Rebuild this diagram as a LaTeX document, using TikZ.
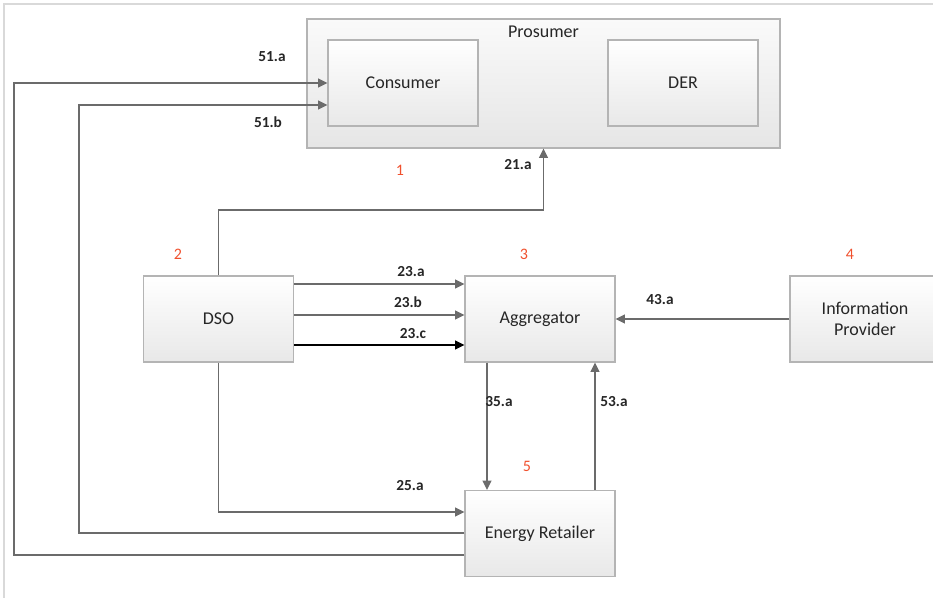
\documentclass[tikz,border=0pt]{standalone}
\usepackage{fontspec}
\setmainfont{Carlito}
\usepackage{tikz}
\usetikzlibrary{positioning, arrows.meta}

\definecolor{linegray}{HTML}{6B6B6B}
\definecolor{boxline}{HTML}{B4B4B4}
\definecolor{numred}{HTML}{F0502D}

\begin{document}
\begin{tikzpicture}[x=0.75pt, y=-0.75pt,
    block/.style={rectangle, draw=boxline, line width=0.8pt, top color=white, bottom color=black!9,
        minimum width=112.5pt, minimum height=64.5pt, align=center, font=\fontsize{13.5}{16}\selectfont, text=black!85},
    flow/.style={draw=linegray, line width=1.4pt, -{Triangle[length=7pt, width=6.5pt]}},
    wire/.style={draw=linegray, line width=1.4pt},
    tag/.style={font=\bfseries\fontsize{11.5}{13}\selectfont, text=black!85},
    num/.style={font=\fontsize{12}{14}\selectfont, text=numred}]
    \useasboundingbox (0,0) rectangle (933,598);
    \draw[black!15, line width=0.8pt] (4,598) -- (4,4) -- (933,4);

    % prosumer group
    \node[block, minimum width=354.75pt, minimum height=96.75pt, top color=black!2, bottom color=black!10] (prosumer) at (543.5,83.5) {};
    \node[font=\fontsize{13.5}{16}\selectfont, text=black!85] (prosumertxt) at (543.5,32) {Prosumer};
    \node[block] (consumer) at (403,83) {Consumer};
    \node[block] (der) at (683,83) {DER};

    % actors
    \node[block] (dso) at (218.5,319) {DSO};
    \node[block] (agg) at (540,319) {Aggregator};
    \node[block] (ip) at (865,319) {Information\\Provider};
    \node[block] (er) at (540,533.5) {Energy Retailer};

    % numbers
    \node[num] (n1) at (400,170) {1};
    \node[num] (n2) at (178,254) {2};
    \node[num] (n3) at (524,254) {3};
    \node[num] (n4) at (850,254) {4};
    \node[num] (n5) at (527,466) {5};

    % flows
    \draw[wire, -{Triangle[length=7pt, width=6.5pt]}] (dso.north) -- (dso.north |- 0,210) -| (prosumer.south);
    \draw[flow] (dso.east |- 0,284) -- (agg.west |- 0,284);
    \draw[flow] (dso.east |- 0,315) -- (agg.west |- 0,315);
    \draw[flow, draw=black] (dso.east |- 0,345) -- (agg.west |- 0,345);
    \draw[flow] (ip.west) -- (agg.east);
    \draw[flow] (agg.south -| 487,0) -- (er.north -| 487,0);
    \draw[flow] (er.north -| 595,0) -- (agg.south -| 595,0);
    \draw[flow] (dso.south) -- (dso.south |- 0,512) -- (er.west |- 0,512);
    \draw[flow] (er.west |- 0,533) -- (79,533) -- (79,105) -- (consumer.west |- 0,105);
    \draw[flow] (er.west |- 0,555) -- (14,555) -- (14,83) -- (consumer.west |- 0,83);

    % labels
    \node[tag] (l51a) at (272,57) {51.a};
    \node[tag] (l51b) at (268,122) {51.b};
    \node[tag] (l21a) at (518,165) {21.a};
    \node[tag] (l23a) at (411,272) {23.a};
    \node[tag] (l23b) at (408,302) {23.b};
    \node[tag] (l23c) at (413,334) {23.c};
    \node[tag] (l43a) at (660,300) {43.a};
    \node[tag] (l35a) at (499,402) {35.a};
    \node[tag] (l53a) at (614,402) {53.a};
    \node[tag] (l25a) at (410,486) {25.a};
\end{tikzpicture}
\end{document}
